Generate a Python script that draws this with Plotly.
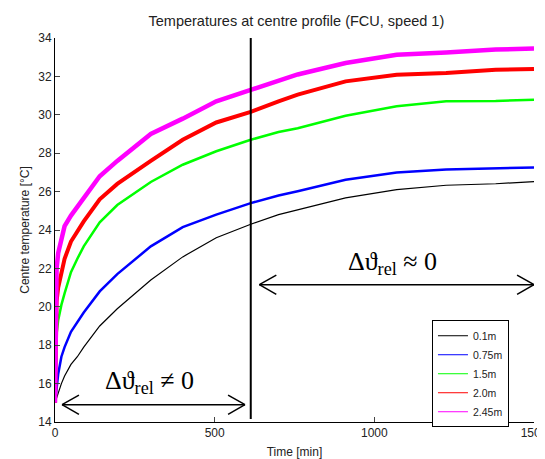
import plotly.graph_objects as go

# Time axis (min)
time_min = [0, 2, 5, 10, 20, 30, 50, 70, 90, 140, 195, 300, 400, 505, 613, 700, 760, 910, 1070, 1225, 1380, 1500]

# Centre temperatures (°C) at the sensor heights
temp_0_1m = [15.0, 15.1, 15.3, 15.6, 16.0, 16.4, 17.0, 17.4, 17.9, 19.0, 19.9, 21.4, 22.6, 23.6, 24.3, 24.8, 25.06, 25.67, 26.1, 26.33, 26.41, 26.52]
temp_0_75m = [15.0, 15.3, 15.8, 16.5, 17.4, 17.9, 18.7, 19.2, 19.7, 20.8, 21.7, 23.15, 24.15, 24.8, 25.4, 25.8, 26.02, 26.62, 27.0, 27.15, 27.23, 27.26]
temp_1_5m = [15.0, 17.0, 18.6, 19.3, 20.1, 20.7, 21.8, 22.5, 23.15, 24.4, 25.3, 26.5, 27.4, 28.1, 28.7, 29.1, 29.3, 29.95, 30.44, 30.7, 30.72, 30.79]
temp_2_0m = [15.0, 18.5, 20.3, 21.0, 21.8, 22.5, 23.4, 23.95, 24.45, 25.6, 26.4, 27.6, 28.7, 29.6, 30.15, 30.7, 31.05, 31.74, 32.09, 32.18, 32.35, 32.39]
temp_2_45m = [15.0, 20.0, 22.0, 22.8, 23.6, 24.2, 24.75, 25.2, 25.7, 26.8, 27.6, 29.0, 29.8, 30.7, 31.3, 31.8, 32.1, 32.7, 33.13, 33.25, 33.4, 33.45]

series_names = ["0.1m", "0.75m", "1.5m", "2.0m", "2.45m"]
series_values = [temp_0_1m, temp_0_75m, temp_1_5m, temp_2_0m, temp_2_45m]
series_colors = ["#000000", "#0000ff", "#00ff00", "#ff0000", "#ff00ff"]
series_widths = [1.2, 2.5, 2.5, 4, 4.5]

x_ticks = [0, 500, 1000, 1500]
y_ticks = [14, 16, 18, 20, 22, 24, 26, 28, 30, 32, 34]

# Phase boundary and arrow levels
t_split = 613
arrow_left = (22, 595, 14.9)
arrow_right = (640, 1500, 21.15)

fig = go.Figure()

for name, vals, col, w in zip(series_names, series_values, series_colors, series_widths):
    fig.add_trace(go.Scatter(x=time_min, y=vals, mode="lines", name=name,
                             line=dict(color=col, width=w), showlegend=False))
for name, col in zip(series_names, series_colors):
    fig.add_trace(go.Scatter(x=[None], y=[None], mode="lines", name=name,
                             line=dict(color=col, width=1)))

# vertical split line
fig.add_shape(type="line", x0=t_split, x1=t_split, y0=14.15, y1=34.05,
              line=dict(color="black", width=2))

def arrow(x0, x1, y):
    hx = 53
    hy = 0.5
    fig.add_shape(type="line", x0=x0, x1=x1, y0=y, y1=y, line=dict(color="black", width=1.5))
    for xa, d in ((x0, 1), (x1, -1)):
        fig.add_shape(type="line", x0=xa, x1=xa + d * hx, y0=y, y1=y + hy, line=dict(color="black", width=1.5))
        fig.add_shape(type="line", x0=xa, x1=xa + d * hx, y0=y, y1=y - hy, line=dict(color="black", width=1.5))

arrow(*arrow_left)
arrow(*arrow_right)

fig.add_annotation(x=295, y=16.1, text="Δϑ<sub>rel</sub> ≠ 0", showarrow=False,
                   font=dict(family="Liberation Serif", size=26, color="black"))
fig.add_annotation(x=1057, y=22.3, text="Δϑ<sub>rel</sub> ≈ 0", showarrow=False,
                   font=dict(family="Liberation Serif", size=26, color="black"))

# page body adds an 8px offset; size the figure to fit the window
fig.update_layout(
    width=537, height=451,
    margin=dict(l=47, r=11, t=30, b=37),
    paper_bgcolor="white", plot_bgcolor="white",
    font=dict(family="Liberation Sans", size=11, color="#222222"),
    title=dict(text="Temperatures at centre profile (FCU, speed 1)", x=0.537, xanchor="center",
               y=0.972, yanchor="middle", font=dict(size=14.5, color="#222222")),
    showlegend=True,
    legend=dict(x=0.787, y=0.265, xanchor="left", yanchor="top",
                bordercolor="black", borderwidth=1, bgcolor="white",
                font=dict(size=10.5), tracegroupgap=0, itemwidth=30),
)
fig.update_xaxes(range=[0, 1500], tickvals=x_ticks, ticks="inside", ticklen=5,
                 showline=True, linecolor="black", linewidth=1, showgrid=False, zeroline=False,
                 automargin=False, ticklabeloverflow="allow",
                 title=dict(text="Time [min]", standoff=8, font=dict(size=12)),
                 tickfont=dict(size=12))
fig.update_yaxes(range=[14, 34], tickvals=y_ticks, ticks="inside", ticklen=5,
                 showline=True, linecolor="black", linewidth=1, showgrid=False, zeroline=False,
                 automargin=False,
                 title=dict(text="Centre temperature [°C]", standoff=6, font=dict(size=12)),
                 tickfont=dict(size=12))

fig.write_html("out.html")
